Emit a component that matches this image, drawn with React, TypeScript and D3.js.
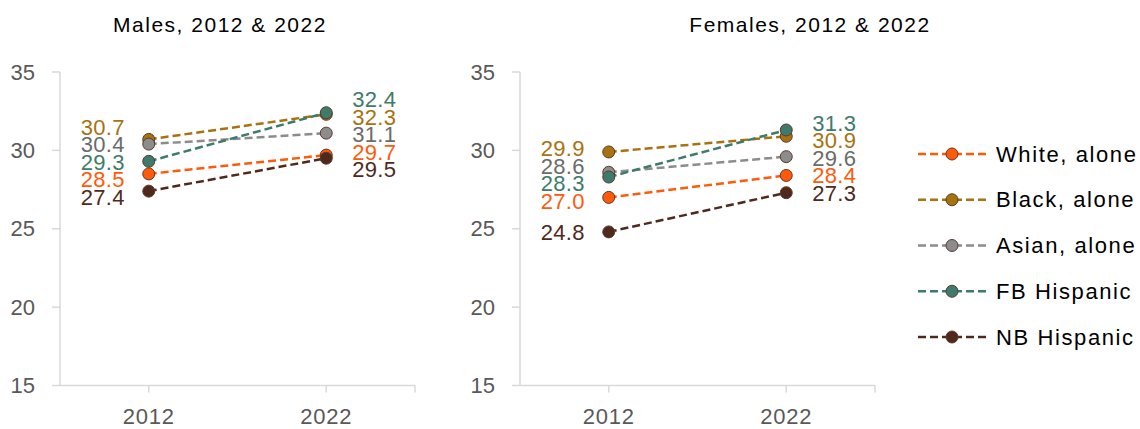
import React from "react";
import * as d3 from "d3";

const years = ["2012", "2022"];
const groups = ["White, alone", "Black, alone", "Asian, alone", "FB Hispanic", "NB Hispanic"];
const lineColors = ["#FF5A0A", "#A8720F", "#8C8C8C", "#3E7B6C", "#4F2A1C"];
const labelColors = ["#FF5A0A", "#A8720F", "#6B6B6B", "#3E7B6C", "#4F2A1C"];
const males2012 = [28.5, 30.7, 30.4, 29.3, 27.4];
const males2022 = [29.7, 32.3, 31.1, 32.4, 29.5];
const females2012 = [27.0, 29.9, 28.6, 28.3, 24.8];
const females2022 = [28.4, 30.9, 29.6, 31.3, 27.3];
const yTicks = [15, 20, 25, 30, 35];

const W = 1140;
const H = 429;
const FONT = "'Liberation Sans', Arial, sans-serif";
const AXIS = "#D9D9D9";
const TICK_TEXT = "#595959";

const y = d3.scaleLinear().domain([15, 35]).range([385.5, 72]);

// push overlapping labels apart, keeping their order
function dodge(ys: number[], gap: number): number[] {
  const idx = ys.map((_, i) => i).sort((a, b) => ys[a] - ys[b]);
  const pos = idx.map((i) => ys[i]);
  for (let it = 0; it < 300; it++) {
    let moved = false;
    for (let k = 0; k < pos.length - 1; k++) {
      const d = pos[k + 1] - pos[k];
      if (d < gap - 0.01) {
        const s = (gap - d) / 2;
        pos[k] -= s;
        pos[k + 1] += s;
        moved = true;
      }
    }
    if (!moved) break;
  }
  const out: number[] = new Array(ys.length);
  idx.forEach((i, k) => (out[i] = pos[k]));
  return out;
}

function Marker({ cx, cy, color }: { cx: number; cy: number; color: string }) {
  return <circle cx={cx} cy={cy} r={6} fill={color} stroke="#5A3A2A" strokeWidth={1} />;
}

function Panel({
  title,
  titleX,
  left,
  right,
  start,
  end,
}: {
  title: string;
  titleX: number;
  left: number;
  right: number;
  start: number[];
  end: number[];
}) {
  const x = d3.scaleBand().domain(years).range([left, right]);
  const cx = (yr: string) => (x(yr) as number) + x.bandwidth() / 2;
  const x0 = cx(years[0]);
  const x1 = cx(years[1]);
  const leftLabels = dodge(start.map((v) => y(v)), 17.5);
  const rightLabels = dodge(end.map((v) => y(v)), 17.5);
  const line = d3.line<[number, number]>();

  return (
    <g>
      <text
        x={titleX}
        y={32}
        textAnchor="middle"
        fontFamily={FONT}
        fontSize={21}
        letterSpacing={1.5}
        fill="#000"
      >
        {title}
      </text>
      {/* y axis */}
      <line x1={left} x2={left} y1={y(35)} y2={y(15)} stroke={AXIS} strokeWidth={1.5} />
      {yTicks.map((t) => (
        <g key={t}>
          <line x1={left - 8} x2={left} y1={y(t)} y2={y(t)} stroke={AXIS} strokeWidth={1.5} />
          <text
            x={left - 25}
            y={y(t)}
            dy="0.35em"
            textAnchor="end"
            fontFamily={FONT}
            fontSize={22}
            fill={TICK_TEXT}
          >
            {t}
          </text>
        </g>
      ))}
      {/* x axis */}
      <line x1={left} x2={right} y1={y(15)} y2={y(15)} stroke={AXIS} strokeWidth={1.5} />
      {[x0, x1, right].map((tx, i) => (
        <line key={i} x1={tx} x2={tx} y1={y(15)} y2={y(15) + 7} stroke={AXIS} strokeWidth={1.5} />
      ))}
      {years.map((yr) => (
        <text
          key={yr}
          x={cx(yr)}
          y={416.5}
          dy="0.35em"
          textAnchor="middle"
          fontFamily={FONT}
          fontSize={22}
          letterSpacing={0.8}
          fill={TICK_TEXT}
        >
          {yr}
        </text>
      ))}
      {/* series */}
      {groups.map((g, i) => (
        <path
          key={g}
          d={line([
            [x0, y(start[i])],
            [x1, y(end[i])],
          ]) as string}
          fill="none"
          stroke={lineColors[i]}
          strokeWidth={2.5}
          strokeDasharray="8 4"
        />
      ))}
      {groups.map((g, i) => (
        <g key={g}>
          <Marker cx={x0} cy={y(start[i])} color={lineColors[i]} />
          <Marker cx={x1} cy={y(end[i])} color={lineColors[i]} />
        </g>
      ))}
      {groups.map((g, i) => (
        <g key={g} fontFamily={FONT} fontSize={22} letterSpacing={0.3} fill={labelColors[i]}>
          <text x={x0 - 24} y={leftLabels[i]} dy="0.35em" textAnchor="end">
            {start[i].toFixed(1)}
          </text>
          <text x={x1 + 26} y={rightLabels[i]} dy="0.35em" textAnchor="start">
            {end[i].toFixed(1)}
          </text>
        </g>
      ))}
    </g>
  );
}

function Legend() {
  const rowY = d3.scalePoint().domain(groups).range([154, 337]);
  return (
    <g>
      {groups.map((g, i) => {
        const ry = rowY(g) as number;
        return (
          <g key={g}>
            <line
              x1={918}
              x2={988}
              y1={ry}
              y2={ry}
              stroke={lineColors[i]}
              strokeWidth={2.5}
              strokeDasharray="8 4"
            />
            <Marker cx={952} cy={ry} color={lineColors[i]} />
            <text
              x={996}
              y={ry}
              dy="0.35em"
              fontFamily={FONT}
              fontSize={22}
              letterSpacing={1.6}
              fill="#000"
            >
              {g}
            </text>
          </g>
        );
      })}
    </g>
  );
}

export default function App() {
  return (
    <svg
      width={W}
      height={H}
      style={{ position: "absolute", left: 0, top: 0, background: "#fff" }}
    >
      <Panel title="Males, 2012 & 2022" titleX={220} left={60} right={415} start={males2012} end={males2022} />
      <Panel
        title="Females, 2012 & 2022"
        titleX={810}
        left={520}
        right={875}
        start={females2012}
        end={females2022}
      />
      <Legend />
    </svg>
  );
}
